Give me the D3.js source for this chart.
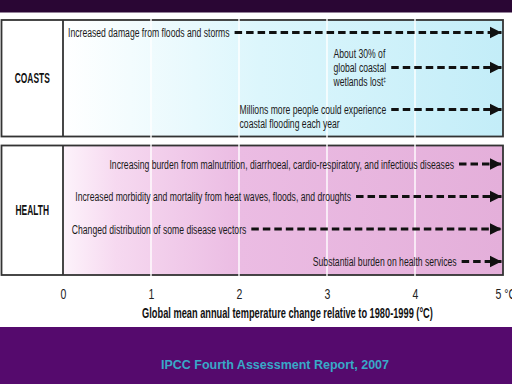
<!DOCTYPE html>
<html><head><meta charset="utf-8">
<script src="https://cdn.jsdelivr.net/npm/d3@7"></script>
<style>body{margin:0;background:#fff}svg{display:block}</style>
</head><body><svg id="c" width="512" height="384"></svg>
<script>
// ---- data ----
const tickValues = [0, 1, 2, 3, 4, 5];
const tickUnit = "°C";
const axisTitle = "Global mean annual temperature change relative to 1980-1999 (°C)";
const sectors = ["COASTS", "HEALTH"];
const coastImpacts = [
  {lines: ["Increased damage from floods and storms"], start: 1.95, row: 0, anchorLine: 0},
  {lines: ["About 30% of", "global coastal", "wetlands lost"], note: "‡", start: 3.73, row: 1, anchorLine: 1},
  {lines: ["Millions more people could experience", "coastal flooding each year"], start: 3.73, row: 2.2, anchorLine: 0}
];
const healthImpacts = [
  {lines: ["Increasing burden from malnutrition, diarrhoeal, cardio-respiratory, and infectious diseases"], start: 4.5, row: 0, anchorLine: 0},
  {lines: ["Increased morbidity and mortality from heat waves, floods, and droughts"], start: 3.33, row: 1, anchorLine: 0},
  {lines: ["Changed distribution of some disease vectors"], start: 2.14, row: 2, anchorLine: 0},
  {lines: ["Substantial burden on health services"], start: 4.53, row: 3, anchorLine: 0}
];
const footer = "IPCC Fourth Assessment Report, 2007";

// ---- drawing ----
const svg = d3.select("#c");
const W = 512, H = 384;
const x = d3.scaleLinear().domain([0, 5]).range([63, 503]);
const boxLeft = 1.5;
const boxes = [
  {name: sectors[0], y0: 20, y1: 136.5, impacts: coastImpacts, grad: "gc",
   rowY: d3.scaleLinear().domain([0, 1]).range([32.5, 67.5])},
  {name: sectors[1], y0: 145.5, y1: 275, impacts: healthImpacts, grad: "gh",
   rowY: d3.scaleLinear().domain([0, 1]).range([164, 196.5])}
];

const defs = svg.append("defs");
const gc = defs.append("linearGradient").attr("id", "gc");
[[0, "#ffffff"], [0.45, "#dcf6fc"], [1, "#c3edf8"]].forEach(s => gc.append("stop").attr("offset", s[0]).attr("stop-color", s[1]));
const gh = defs.append("linearGradient").attr("id", "gh");
[[0, "#fdf3fb"], [0.12, "#f6d9f0"], [0.4, "#ebbce3"], [1, "#e4afda"]].forEach(s => gh.append("stop").attr("offset", s[0]).attr("stop-color", s[1]));
defs.append("marker").attr("id", "ah").attr("viewBox", "0 0 10 10").attr("refX", 10).attr("refY", 5)
  .attr("markerWidth", 3.6).attr("markerHeight", 4.2).attr("markerUnits", "strokeWidth").attr("orient", "auto")
  .append("path").attr("d", "M0,0L10,5L0,10Z").attr("fill", "#111");

// bands
svg.append("rect").attr("x", 0).attr("y", 0).attr("width", W).attr("height", 12.5).attr("fill", "#2a0634");
svg.append("rect").attr("x", 0).attr("y", 327).attr("width", W).attr("height", H - 327).attr("fill", "#550a6d");

const FONT = "Liberation Sans, Arial, sans-serif";
function squeeze(sel, k) {
  sel.each(function () {
    const len = this.getComputedTextLength();
    d3.select(this).attr("textLength", len * k).attr("lengthAdjust", "spacingAndGlyphs");
  });
}

boxes.forEach(b => {
  svg.append("rect").attr("x", x(0)).attr("y", b.y0).attr("width", x(5) - x(0)).attr("height", b.y1 - b.y0)
    .attr("fill", `url(#${b.grad})`);
  svg.append("rect").attr("x", boxLeft).attr("y", b.y0).attr("width", x(5) - boxLeft).attr("height", b.y1 - b.y0)
    .attr("fill", "none").attr("stroke", "#333").attr("stroke-width", 1.8);
  svg.append("line").attr("x1", x(0)).attr("x2", x(0)).attr("y1", b.y0).attr("y2", b.y1)
    .attr("stroke", "#333").attr("stroke-width", 1.8);
  const lab = svg.append("text").attr("x", (boxLeft + x(0)) / 2).attr("y", (b.y0 + b.y1) / 2 + 5)
    .attr("text-anchor", "middle").attr("font-family", FONT)
    .attr("font-weight", "bold").attr("font-size", 14).attr("fill", "#111").text(b.name);
  squeeze(lab, 0.6);
});

// white gridlines
svg.selectAll("line.grid").data(tickValues.slice(1, -1)).join("line").attr("class", "grid")
  .attr("x1", d => x(d)).attr("x2", d => x(d)).attr("y1", 18).attr("y2", 278)
  .attr("stroke", "#fff").attr("stroke-width", 1.4);

// impacts
const lineGap = 13.8;
boxes.forEach(b => {
  b.impacts.forEach(d => {
    const y = b.rowY(d.row);
    const xs = x(d.start);
    const g = svg.append("g");
    const texts = d.lines.map((t, i) => {
      const tx = g.append("text").attr("y", y + (i - d.anchorLine) * lineGap + 4.5)
        .attr("font-family", FONT).attr("font-size", 12.5).attr("fill", "#1a1a1a")
        .text(t);
      if (d.note && i === d.lines.length - 1) tx.append("tspan").attr("dy", -4).attr("font-size", 7).text(d.note);
      squeeze(tx, 0.69);
      return tx;
    });
    const aLen = +texts[d.anchorLine].attr("textLength");
    const x0 = xs - 5 - aLen;
    texts.forEach(t => t.attr("x", x0));
    g.append("line").attr("x1", xs).attr("x2", x(5) - 1.5).attr("y1", y).attr("y2", y)
      .attr("stroke", "#111").attr("stroke-width", 3.2).attr("stroke-dasharray", "7.5,4")
      .attr("marker-end", "url(#ah)");
  });
});

// axis
const axisG = svg.append("g").attr("transform", "translate(0,280)");
const axis = d3.axisBottom(x).tickValues(tickValues).tickSize(0).tickPadding(0)
  .tickFormat(d => d === 5 ? `${d} ${tickUnit}` : d);
axisG.call(axis);
axisG.select(".domain").remove();
axisG.selectAll(".tick text").attr("font-family", FONT).attr("font-size", 14)
  .attr("fill", "#222").attr("dy", 0).attr("y", 18.5)
  .each(function (d) { if (d === 5) d3.select(this).attr("text-anchor", "start").attr("x", -8); });
axisG.selectAll(".tick text").each(function () { squeeze(d3.select(this), 0.75); });

const at = svg.append("text").attr("x", 287.5).attr("y", 318).attr("text-anchor", "middle")
  .attr("font-family", FONT).attr("font-weight", "bold").attr("font-size", 14)
  .attr("fill", "#111").text(axisTitle);
squeeze(at, 0.66);

svg.append("text").attr("x", 275).attr("y", 369).attr("text-anchor", "middle")
  .attr("font-family", FONT).attr("font-weight", "bold").attr("font-size", 12.5)
  .attr("fill", "#38a8c8").text(footer);
</script></body></html>
